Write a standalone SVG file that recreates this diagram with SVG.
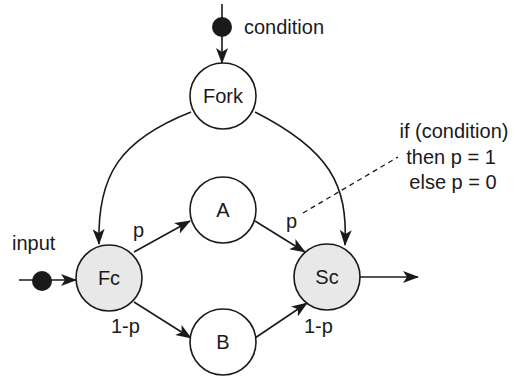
<svg xmlns="http://www.w3.org/2000/svg" width="515" height="378" viewBox="0 0 515 378">
  <style>
    .node { stroke: #1a1a1a; stroke-width: 1.6; fill: #ffffff; }
    .gate { fill: #e8e8e8; }
    .dot { fill: #1a1a1a; }
    .edge { stroke: #1a1a1a; stroke-width: 1.6; fill: none; }
    .dash { stroke: #1a1a1a; stroke-width: 1.3; fill: none; stroke-dasharray: 5 4; }
    text { font-family: "Liberation Sans", Arial, sans-serif; font-size: 20px; fill: #1a1a1a; }
    .c { text-anchor: middle; }
  </style>
  <defs>
    <marker id="arrow" viewBox="0 0 16 12" refX="15" refY="6" markerWidth="16" markerHeight="12" markerUnits="userSpaceOnUse" orient="auto">
      <path d="M0,0 L16,6 L0,12 L4,6 Z" fill="#1a1a1a"/>
    </marker>
  </defs>

  <g id="connectors">
    <line class="edge" x1="222" y1="4" x2="222" y2="63" marker-end="url(#arrow)"/>
    <line class="edge" x1="19" y1="280" x2="76" y2="280" marker-end="url(#arrow)"/>
    <path class="edge" d="M191,112 C120,140 97,175 99,244" marker-end="url(#arrow)"/>
    <path class="edge" d="M255,112 C330,150 348,185 345,245" marker-end="url(#arrow)"/>
    <line class="edge" x1="134" y1="252" x2="190" y2="221" marker-end="url(#arrow)"/>
    <line class="edge" x1="134" y1="302" x2="191" y2="338" marker-end="url(#arrow)"/>
    <line class="edge" x1="255" y1="221" x2="305" y2="252" marker-end="url(#arrow)"/>
    <line class="edge" x1="255" y1="338" x2="307" y2="303" marker-end="url(#arrow)"/>
    <line class="edge" x1="360" y1="277" x2="418" y2="277" marker-end="url(#arrow)"/>
    <line class="dash" x1="303" y1="213" x2="398" y2="157"/>
  </g>

  <g id="condition-source">
    <circle class="dot" cx="222" cy="27" r="10"/>
    <text x="244" y="34">condition</text>
  </g>
  <g id="input-source">
    <circle class="dot" cx="42" cy="281" r="10"/>
    <text x="12" y="250">input</text>
  </g>

  <g id="fork">
    <circle class="node" cx="223" cy="96" r="33"/>
    <text class="c" x="223" y="103">Fork</text>
  </g>
  <g id="fc">
    <circle class="node gate" cx="109" cy="278" r="33"/>
    <text class="c" x="109" y="285">Fc</text>
  </g>
  <g id="a">
    <circle class="node" cx="223" cy="210" r="33"/>
    <text class="c" x="223" y="217">A</text>
  </g>
  <g id="b">
    <circle class="node" cx="223" cy="342" r="33"/>
    <text class="c" x="223" y="349">B</text>
  </g>
  <g id="sc">
    <circle class="node gate" cx="327" cy="277" r="33"/>
    <text class="c" x="327" y="284">Sc</text>
  </g>

  <g id="labels">
    <text x="133" y="237">p</text>
    <text x="111" y="333">1-p</text>
    <text x="286" y="228">p</text>
    <text x="304" y="333">1-p</text>
    <text class="c" x="454" y="138">if (condition)</text>
    <text class="c" x="451" y="164">then p = 1</text>
    <text class="c" x="453" y="189">else p = 0</text>
  </g>
</svg>
